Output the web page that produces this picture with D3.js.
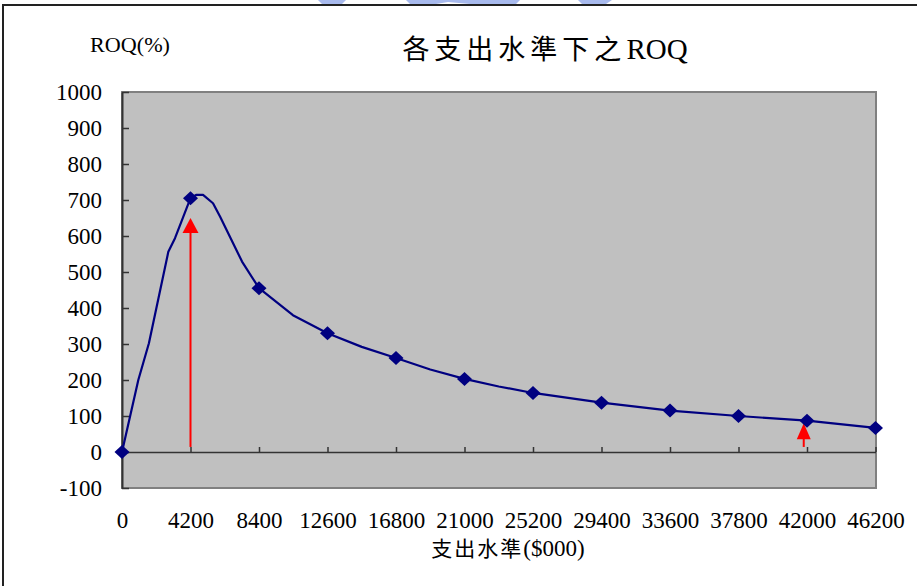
<!DOCTYPE html>
<html>
<head>
<meta charset="utf-8">
<script src="https://cdn.jsdelivr.net/npm/d3@7/dist/d3.min.js"></script>
<style>
  html, body { margin: 0; padding: 0; background: #fff; }
  svg { display: block; }
</style>
</head>
<body>
<script>
// Spending level ($000) and ROQ (%) along the curve
const spending = [0, 1000, 1650, 2840, 3250, 4200, 4540, 4970, 5580, 6010, 7360, 8400, 10480, 12600, 14700, 16800, 18900, 21000, 23100, 25200, 29400, 33600, 37800, 42000, 46200];
const roq      = [0, 200, 302, 556, 594, 705, 714, 714, 691, 654, 529, 455, 380, 330, 292, 261, 229, 203, 182, 164, 137, 115, 100, 87, 67];
// Spending levels that carry a marker
const markedLevels = [0, 4200, 8400, 12600, 16800, 21000, 25200, 29400, 33600, 37800, 42000, 46200];
// Axis ticks
const xTicks = [0, 4200, 8400, 12600, 16800, 21000, 25200, 29400, 33600, 37800, 42000, 46200];
const yTicks = [-100, 0, 100, 200, 300, 400, 500, 600, 700, 800, 900, 1000];
// Highlight arrows: x position, base and tip values
const arrowX    = [4200, 41800];
const arrowFrom = [14, 14];
const arrowTo   = [650, 80];

const W = 917, H = 586;
const svg = d3.select("body").append("svg").attr("width", W).attr("height", H);

const x = d3.scaleLinear().domain([0, 46200]).range([122, 875.5]);
const y = d3.scaleLinear().domain([-100, 1000]).range([488, 92]);

const serif = "'Liberation Serif', 'Times New Roman', serif";
const cjk = "'Noto Sans CJK TC', 'Noto Sans CJK SC', sans-serif";
const plain = d => String(d);

// Faint watermark fragments at the top edge
const wm = svg.append("g").attr("fill", "#9aaeea").attr("opacity", 0.85);
wm.append("path").attr("d", "M318,0 L346,0 L342,4 L322,4 Z");
wm.append("path").attr("d", "M406,0 L520,0 L515,5 L470,4 L448,2 L430,5 L410,4 Z");
wm.append("path").attr("d", "M578,0 L612,0 L606,4 L582,4 Z");

// Outer frame (left and top edges)
svg.append("path").attr("d", "M3,586 L3,5 L917,5")
  .attr("fill", "none").attr("stroke", "#222").attr("stroke-width", 2);

// Plot area
svg.append("rect")
  .attr("x", x(0)).attr("y", y(1000))
  .attr("width", x(46200) - x(0) + 0.5).attr("height", y(-100) - y(1000))
  .attr("fill", "#c0c0c0").attr("stroke", "#808080").attr("stroke-width", 2);

// Y axis
const yAxis = svg.append("g").attr("transform", `translate(${x(0)},0)`)
  .call(d3.axisLeft(y).tickValues(yTicks).tickFormat(plain).tickSizeInner(-7).tickSizeOuter(0).tickPadding(20));
yAxis.select(".domain").attr("stroke", "#333").attr("stroke-width", 2);
yAxis.selectAll(".tick line").attr("stroke", "#333").attr("stroke-width", 1.5);
yAxis.selectAll("text").attr("font-family", serif).attr("font-size", 23).attr("fill", "#000");

// X axis along zero, labels below the plot
const xAxis = svg.append("g").attr("transform", `translate(0,${y(0)})`)
  .call(d3.axisBottom(x).tickValues(xTicks).tickFormat(plain).tickSizeInner(-5).tickSizeOuter(0).tickPadding(60));
xAxis.select(".domain").attr("stroke", "#333").attr("stroke-width", 1.5);
xAxis.selectAll(".tick line").attr("stroke", "#333").attr("stroke-width", 1.5);
xAxis.selectAll("text").attr("font-family", serif).attr("font-size", 23).attr("fill", "#000");

// Arrows
arrowX.forEach((ax, i) => {
  const px = x(ax), yb = y(arrowFrom[i]), yt = y(arrowTo[i]);
  const headLen = i === 0 ? 15 : 16, headHalf = i === 0 ? 8 : 7;
  svg.append("line").attr("x1", px).attr("x2", px).attr("y1", yb).attr("y2", yt + headLen - 1)
    .attr("stroke", "#ff0000").attr("stroke-width", 2);
  svg.append("path")
    .attr("d", `M${px},${yt} L${px + headHalf},${yt + headLen} L${px - headHalf},${yt + headLen} Z`)
    .attr("fill", "#ff0000");
});

// ROQ line
const pts = spending.map((s, i) => [s, roq[i]]);
svg.append("path").datum(pts)
  .attr("d", d3.line().x(d => x(d[0])).y(d => y(d[1])))
  .attr("fill", "none").attr("stroke", "#000080").attr("stroke-width", 2.2)
  .attr("stroke-linejoin", "round");

// Diamond markers
const marked = pts.filter(d => markedLevels.includes(d[0]));
svg.selectAll(".mk").data(marked).enter().append("path")
  .attr("class", "mk")
  .attr("d", d => `M${x(d[0])},${y(d[1]) - 7} L${x(d[0]) + 7.5},${y(d[1])} L${x(d[0])},${y(d[1]) + 7} L${x(d[0]) - 7.5},${y(d[1])} Z`)
  .attr("fill", "#000080");

// Title
const title = svg.append("text").attr("x", 545).attr("y", 59).attr("text-anchor", "middle")
  .attr("font-size", 27).attr("fill", "#000");
title.append("tspan").attr("font-family", cjk).attr("letter-spacing", "5px").text("各支出水準下之");
title.append("tspan").attr("font-family", serif).attr("font-size", 29).text("ROQ");

// Y axis title
svg.append("text").attr("x", 90).attr("y", 52).attr("font-family", serif)
  .attr("font-size", 20).attr("textLength", 80).attr("lengthAdjust", "spacingAndGlyphs")
  .attr("fill", "#000").text("ROQ(%)");

// X axis title
const xt = svg.append("text").attr("x", 508).attr("y", 556).attr("text-anchor", "middle")
  .attr("font-size", 21).attr("fill", "#000");
xt.append("tspan").attr("font-family", cjk).attr("letter-spacing", "2px").text("支出水準");
xt.append("tspan").attr("font-family", serif).attr("font-size", 23).text("($000)");
</script>
</body>
</html>
